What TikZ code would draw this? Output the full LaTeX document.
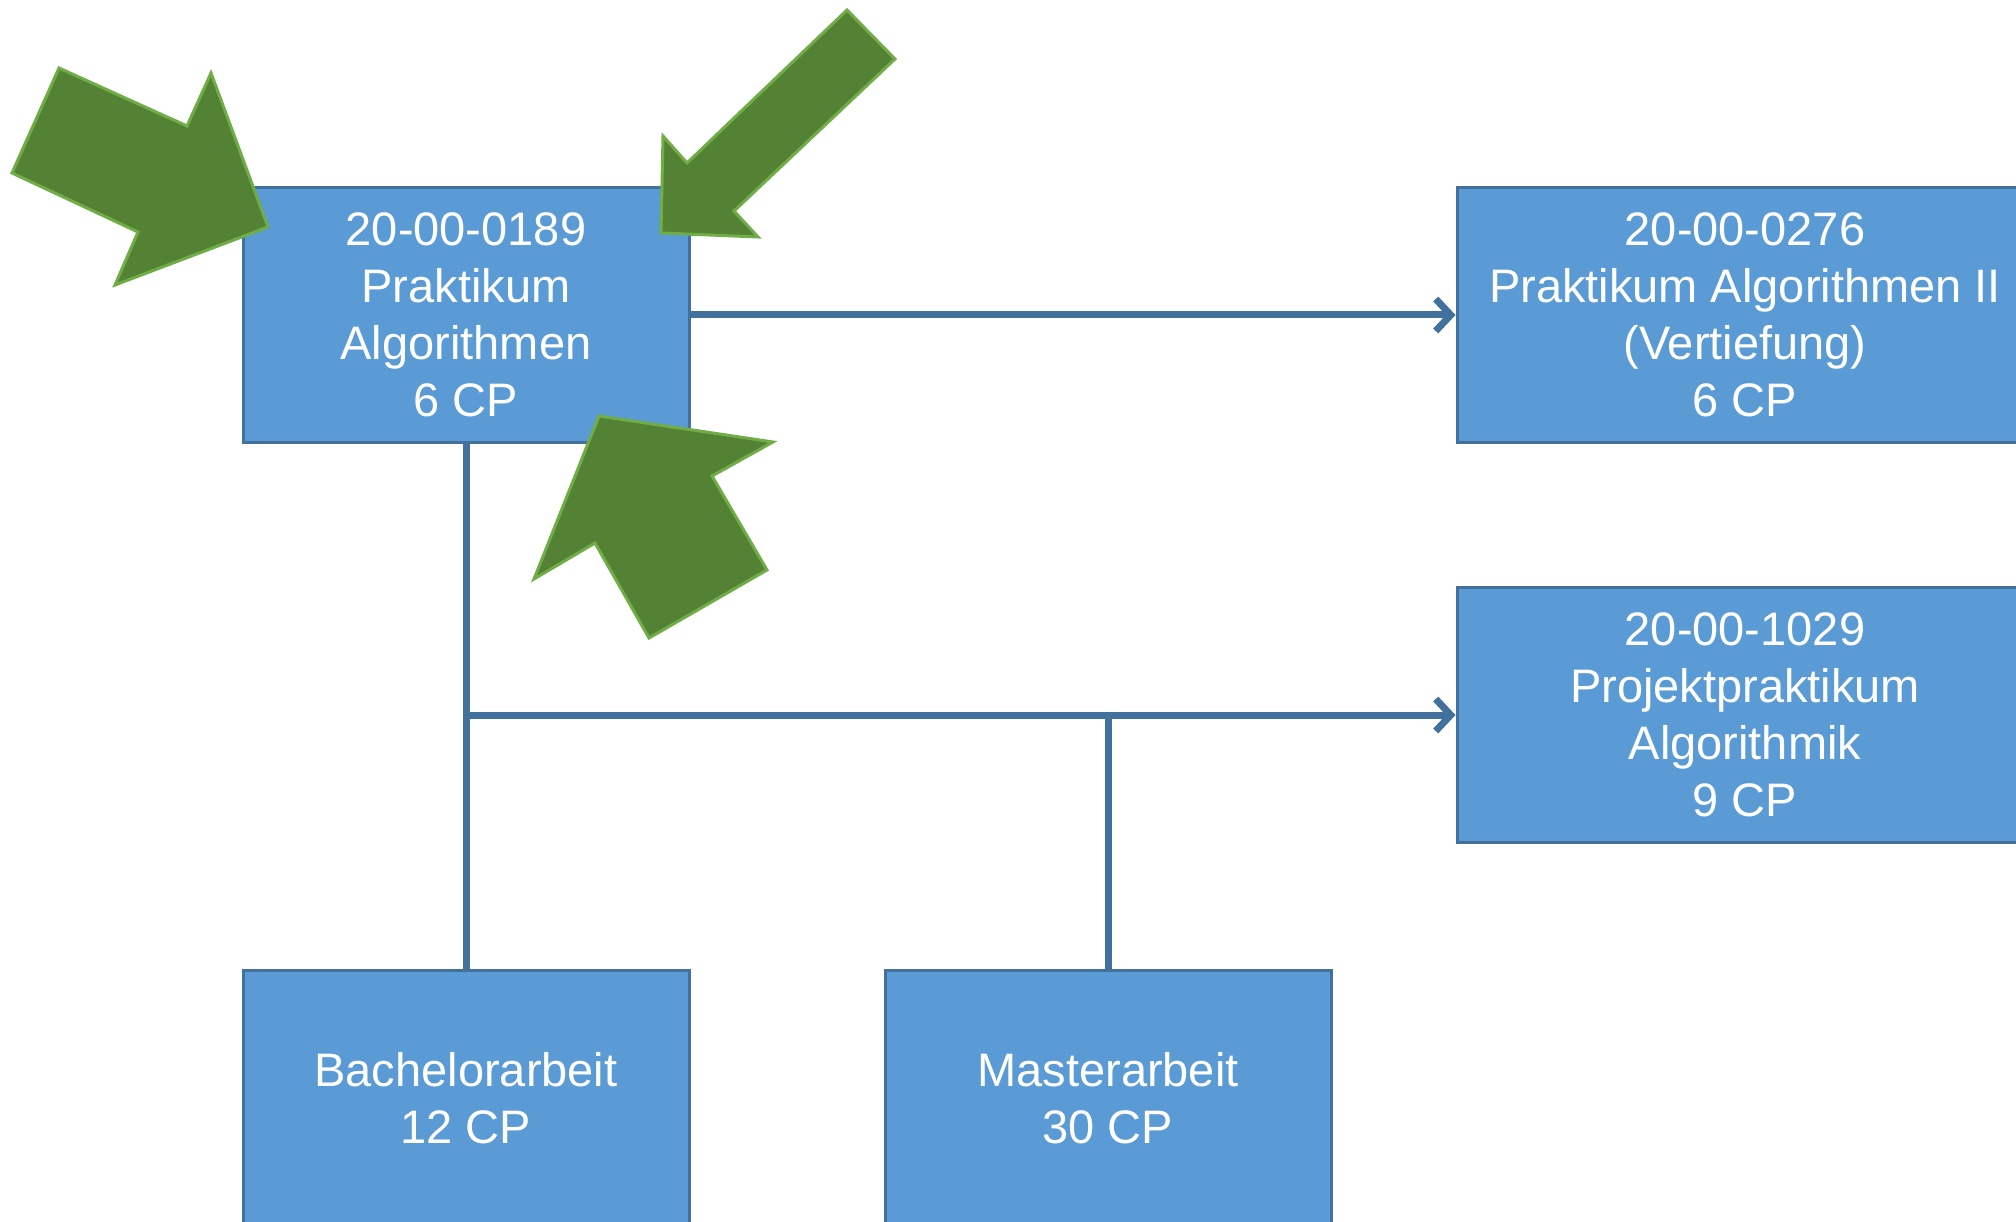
\documentclass[tikz,border=0pt]{standalone}
\usepackage{fontspec}
\setmainfont{Liberation Sans}
\usepackage{xcolor}
\usetikzlibrary{arrows.meta, positioning}

\definecolor{boxfill}{HTML}{5B9BD5}
\definecolor{boxline}{HTML}{41719C}
\definecolor{arrowfill}{HTML}{548235}
\definecolor{arrowline}{HTML}{70AD47}

\tikzset{
	modul/.style = {draw = boxline, line width = 3pt, fill = boxfill, text = white,
		align = center, minimum width = 446pt, minimum height = 255pt, inner sep = 0pt,
		font = \fontsize{47}{57}\selectfont},
	breitmodul/.style = {modul, minimum width = 576pt},
	conn/.style = {draw = boxline, line width = 7pt},
	pfeil/.style = {conn, -{Straight Barb[length = 15pt, width = 32pt]}},
	hinweis/.style = {draw = arrowline, line width = 3pt, fill = arrowfill, line join = miter}
}

\begin{document}
\begin{tikzpicture}[x = 1pt, y = -1pt]
							\useasboundingbox (0,0) rectangle (2016,1222);
							\clip (0,0) rectangle (2016,1222);
				
							\node [modul] (praktikum) at (466,315) {20-00-0189\\Praktikum\\Algorithmen\\6 CP};
							\node [breitmodul] (vertiefung) at (1745,315) {20-00-0276\\Praktikum Algorithmen II\\(Vertiefung)\\6 CP};
							\node [breitmodul] (projekt) at (1745,715) {20-00-1029\\Projektpraktikum\\Algorithmik\\9 CP};
							\node [modul] (bachelor) at (466,1098) {Bachelorarbeit\\12 CP};
							\node [modul] (master) at (1108,1098) {Masterarbeit\\30 CP};
				
							\coordinate (abzweig) at (praktikum.south |- projekt.west);
							\coordinate (masterknick) at (master.north |- projekt.west);
				
							\draw [pfeil] (praktikum.east) -- (vertiefung.west);
							\draw [conn] (praktikum.south) -- (bachelor.north);
							\draw [pfeil] (abzweig) -- (projekt.west);
							\draw [conn] (master.north) -- (masterknick);
				
							% green block arrows
							\draw [hinweis] (12,173) -- (59,68) -- (187,126) -- (211,73) -- (268,227) -- (115,285) -- (138,232) -- cycle;
							\draw [hinweis] (847,10) -- (895,59) -- (734,211) -- (758,237) -- (661,233) -- (663,136) -- (687,163) -- cycle;
							\draw [hinweis] (599,416) -- (773,442) -- (712,476) -- (767,570) -- (649,638) -- (595,543) -- (534,579) -- cycle;
						\end{tikzpicture}
\end{document}
